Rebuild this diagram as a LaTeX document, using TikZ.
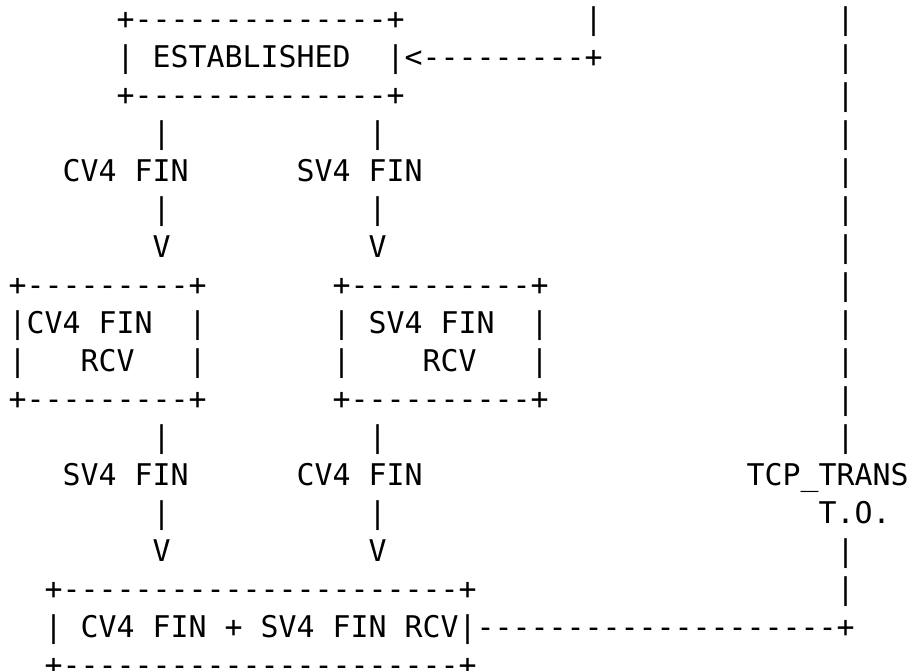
\documentclass[tikz,border=0pt]{standalone}
\usepackage{fontspec}
\setmonofont{DejaVu Sans Mono}

\begin{document}
\begin{tikzpicture}[x=9pt,y=-19pt,
  txt/.style={font=\fontsize{14.95}{19}\selectfont\ttfamily,inner sep=0pt,anchor=base west}]

\fill[white] (0pt,0pt) rectangle (462pt,-335pt);
\useasboundingbox (0pt,0pt) rectangle (462pt,-335pt);

\begin{scope}[shift={(4.15pt,-14.9pt)}]

%ESTABLISHED box
\node[txt] (esttop) at (6,0) {+--------------+};
\node[txt] (estl) at (6,1) {|};
\node[txt] (est) at (8,1) {ESTABLISHED};
\node[txt] (estr) at (21,1) {|<---------+};
\node[txt] (estbot) at (6,2) {+--------------+};
\node[txt] (back) at (32,0) {|};

%right-hand line
\foreach \r in {0,1,2,3,4,5,6,7,8,9,10,11,14,15}
  \node[txt] (trans\r) at (46,\r) {|};
\node[txt] (trans) at (41,12) {TCP\_TRANS};
\node[txt] (to) at (45,13) {T.O.};

%down from ESTABLISHED
\foreach \c/\n in {8/cv,20/sv} {
  \node[txt] (\n a) at (\c,3) {|};
  \node[txt] (\n b) at (\c,5) {|};
  \node[txt] (\n c) at (\c,6) {V};
  \node[txt] (\n d) at (\c,11) {|};
  \node[txt] (\n e) at (\c,13) {|};
  \node[txt] (\n f) at (\c,14) {V};
}
\node[txt] (cvfin) at (3,4) {CV4 FIN};
\node[txt] (svfin) at (16,4) {SV4 FIN};
\node[txt] (svfin2) at (3,12) {SV4 FIN};
\node[txt] (cvfin2) at (16,12) {CV4 FIN};

%CV4 FIN RCV box
\node[txt] (cvtop) at (0,7) {+---------+};
\node[txt] (cvl1) at (0,8) {|};
\node[txt] (cvrcv) at (1,8) {CV4 FIN};
\node[txt] (cvr1) at (10,8) {|};
\node[txt] (cvl2) at (0,9) {|};
\node[txt] (cvrcv2) at (4,9) {RCV};
\node[txt] (cvr2) at (10,9) {|};
\node[txt] (cvbot) at (0,10) {+---------+};

%SV4 FIN RCV box
\node[txt] (svtop) at (18,7) {+----------+};
\node[txt] (svl1) at (18,8) {|};
\node[txt] (svrcv) at (20,8) {SV4 FIN};
\node[txt] (svr1) at (29,8) {|};
\node[txt] (svl2) at (18,9) {|};
\node[txt] (svrcv2) at (23,9) {RCV};
\node[txt] (svr2) at (29,9) {|};
\node[txt] (svbot) at (18,10) {+----------+};

%CV4 FIN + SV4 FIN RCV box
\node[txt] (bothtop) at (2,15) {+----------------------+};
\node[txt] (bothl) at (2,16) {|};
\node[txt] (both) at (4,16) {CV4 FIN + SV4 FIN RCV};
\node[txt] (bothr) at (25,16) {|--------------------+};
\node[txt] (bothbot) at (2,17) {+----------------------+};

\end{scope}
\end{tikzpicture}
\end{document}
